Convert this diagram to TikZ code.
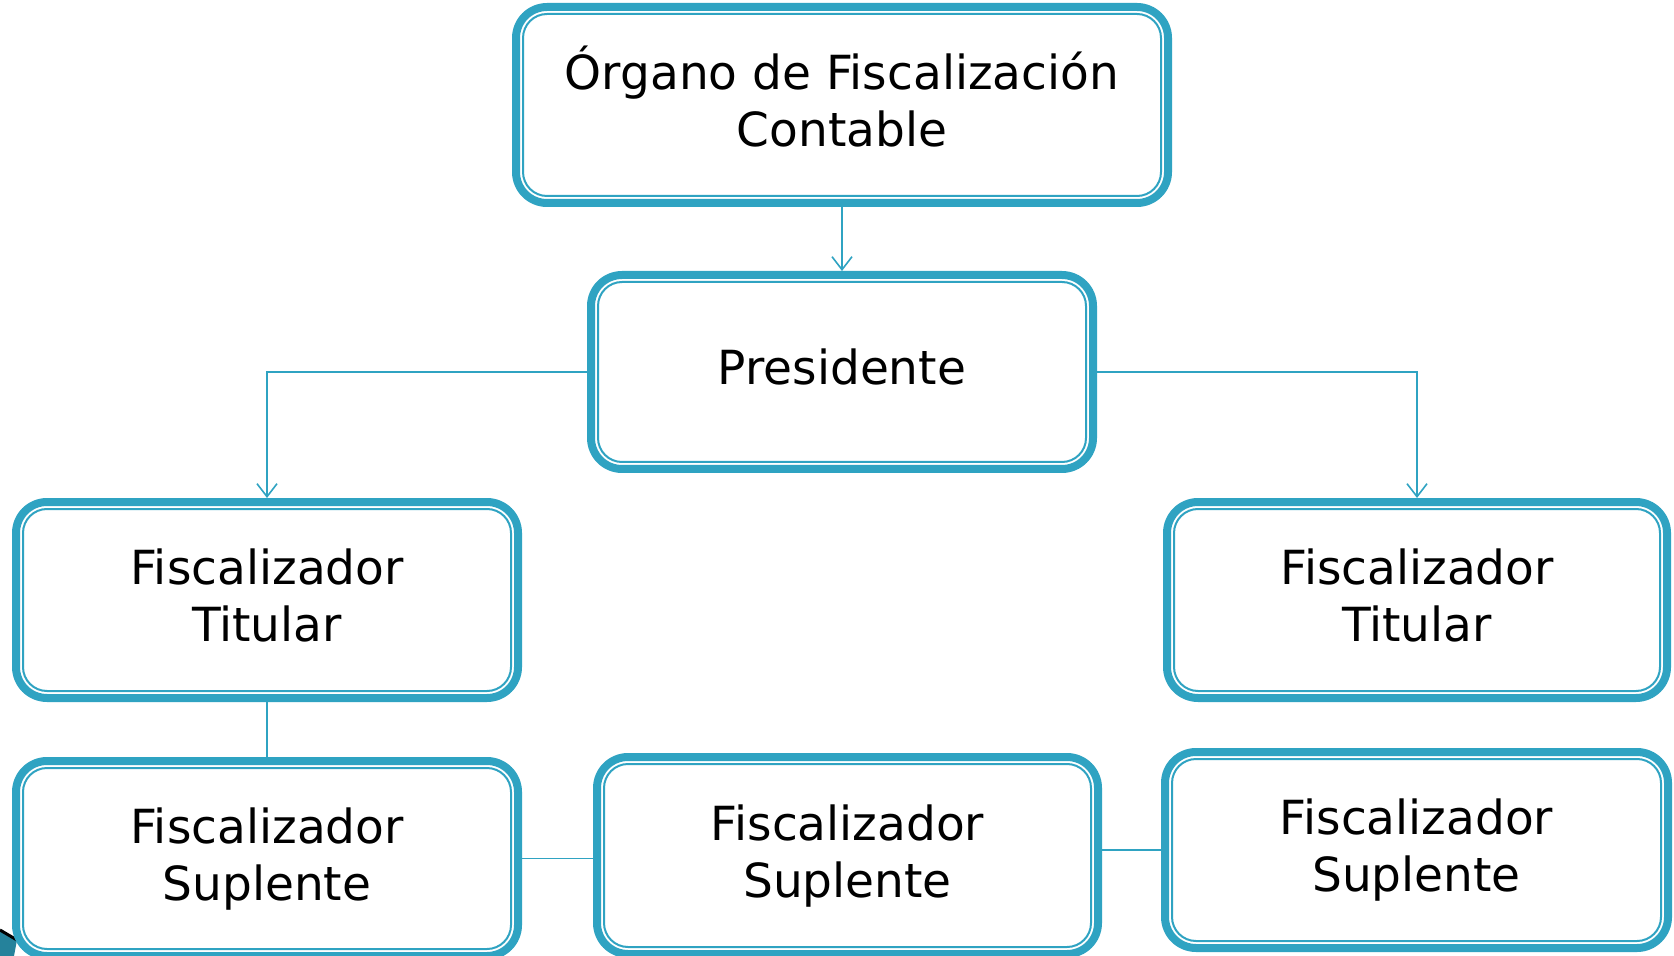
\documentclass[tikz,border=0pt]{standalone}
\usepackage{fontspec}
\setmainfont{DejaVu Sans}
\usetikzlibrary{arrows.meta}
\definecolor{teal1}{RGB}{47,163,194}
\tikzset{
  box/.style={draw=teal1, line width=4pt, rounded corners=15.5pt, fill=white,
    align=center, inner sep=0pt, text=black,
    font=\fontsize{23.5}{28.5}\selectfont},
  twoline/.style={text height=48.5pt, text depth=7pt},
  oneline/.style={text height=20pt, text depth=7pt},
  innerline/.style={draw=teal1, line width=1pt, rounded corners=12pt},
  conn/.style={draw=teal1, line width=0.8pt},
  arr/.style={conn, -{Straight Barb[length=6.5pt,width=10pt,line width=0.8pt]}}
}
\newcommand{\innerframe}[1]{%
  \path[innerline] ([xshift=5.5pt,yshift=5.5pt]#1.south west) rectangle ([xshift=-5.5pt,yshift=-5.5pt]#1.north east);}
\begin{document}
\begin{tikzpicture}[x=0.5pt,y=-0.5pt]
\useasboundingbox (0,0) rectangle (1674,956);
\fill[white] (0,0) rectangle (1674,956);
% corner decoration (slide background fragment)
\fill[teal1!80!black] (0,931) -- (17,940) -- (14,956) -- (0,956) -- cycle;
\draw[black, line width=1.5pt] (0,930) -- (17,940);
% boxes
\node[box, twoline, minimum width=326pt, minimum height=98pt] (A) at (842,105)
  {Órgano de Fiscalización\\Contable};
\node[box, oneline, minimum width=251pt, minimum height=97pt] (P) at (842,372)
  {Presidente};
\node[box, twoline, minimum width=251pt, minimum height=98pt] (TL) at (267,600)
  {Fiscalizador\\Titular};
\node[box, twoline, minimum width=250pt, minimum height=98pt] (TR) at (1417,600)
  {Fiscalizador\\Titular};
\node[box, twoline, minimum width=251pt, minimum height=97.5pt] (SL) at (267,858.5)
  {Fiscalizador\\Suplente};
\node[box, twoline, minimum width=250.5pt, minimum height=98.5pt] (SM) at (847.5,855.5)
  {Fiscalizador\\Suplente};
\node[box, twoline, minimum width=251.5pt, minimum height=98pt] (SR) at (1416.5,850)
  {Fiscalizador\\Suplente};
\innerframe{A}
\innerframe{P}
\innerframe{TL}
\innerframe{TR}
\innerframe{SL}
\innerframe{SM}
\innerframe{SR}
% connectors
\draw[arr] (A.south) -- (P.north);
\draw[arr] (P.west) -| (TL.north);
\draw[arr] (P.east) -| (TR.north);
\draw[conn] (TL.south) -- (SL.north);
\draw[conn] (SL.east) -- (SL.east -| SM.west);
\draw[conn] (SR.west -| SM.east) -- (SR.west);
\end{tikzpicture}
\end{document}
